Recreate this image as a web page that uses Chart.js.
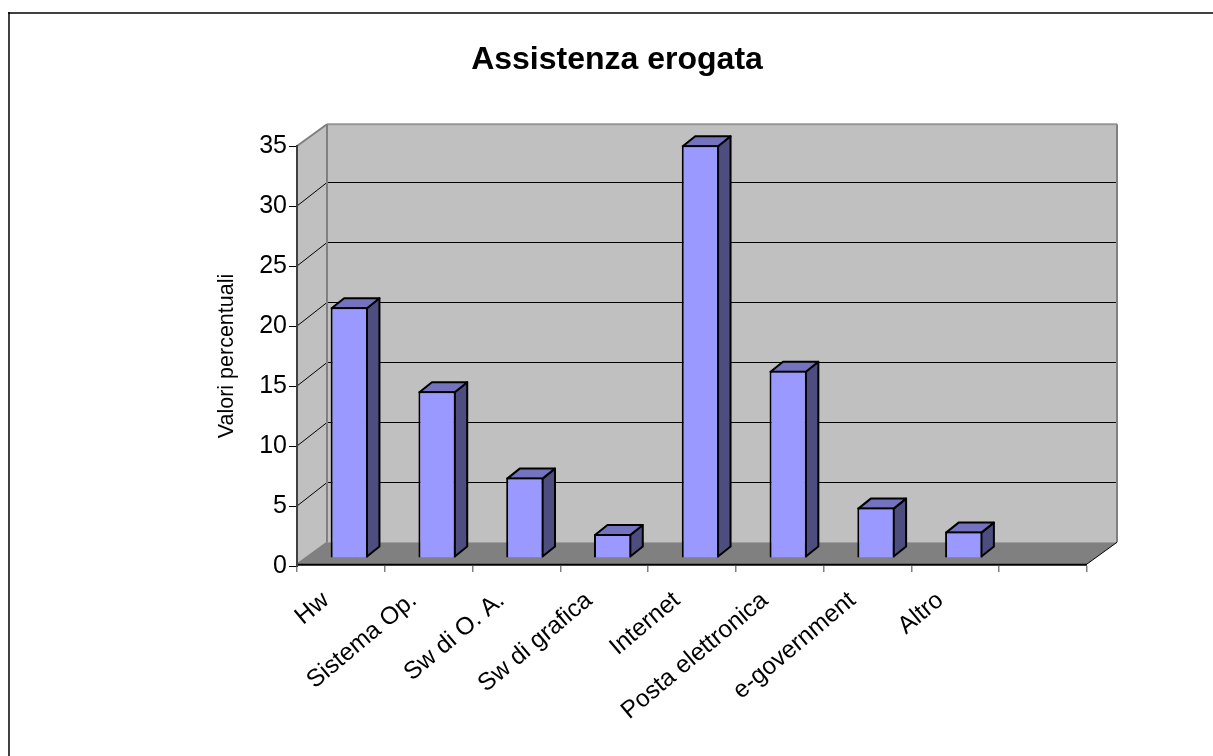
<!DOCTYPE html>
<html lang="it">
<head>
  <meta charset="UTF-8">
  <title>Assistenza erogata</title>
  <script src="https://cdn.jsdelivr.net/npm/chart.js"></script>
  <style>
    body { margin: 0; background: #fff; }
    #wrap { width: 1213px; height: 756px; }
  </style>
</head>
<body>
  <div id="wrap"><canvas id="chart" width="1213" height="756"></canvas></div>
  <script>
    // Dati
    const categories = ["Hw", "Sistema Op.", "Sw di O. A.", "Sw di grafica", "Internet", "Posta elettronica", "e-government", "Altro", ""];
    const values = [20.9, 13.9, 6.7, 2, 34.4, 15.6, 4.2, 2.2, null];
    const yTicks = [0, 5, 10, 15, 20, 25, 30, 35];

    // Profondita' del finto 3D
    const wallDepth = { x: 30, y: -23.7 };
    const barShift = { x: 8.4, y: -8 };
    const barDepth = { x: 12.5, y: -10 };
    const edge = 2; // il pavimento e il bordo alto stanno 2px dentro l'area

    const poly = (ctx, pts, fill, stroke, width) => {
      ctx.beginPath();
      pts.forEach((p, i) => i ? ctx.lineTo(p[0], p[1]) : ctx.moveTo(p[0], p[1]));
      ctx.closePath();
      if (fill) { ctx.fillStyle = fill; ctx.fill(); }
      if (stroke) { ctx.strokeStyle = stroke; ctx.lineWidth = width; ctx.lineJoin = "round"; ctx.stroke(); }
    };

    const line = (ctx, x1, y1, x2, y2, color, width) => {
      ctx.beginPath();
      ctx.moveTo(x1, y1);
      ctx.lineTo(x2, y2);
      ctx.strokeStyle = color;
      ctx.lineWidth = width;
      ctx.stroke();
    };

    // Cornice, pareti e griglia dietro alle barre
    const walls = {
      id: "walls",
      beforeDraw(chart) {
        const { ctx, chartArea: a, scales: { y } } = chart;
        const dx = wallDepth.x;
        const front = a.bottom - edge;
        const backTop = a.top + wallDepth.y + edge, backBottom = a.bottom + wallDepth.y;
        const xl = a.left + dx, xr = a.right + dx;
        ctx.save();
        line(ctx, 9, 12, 9, 756, "#404040", 2);
        line(ctx, 8, 13, 1213, 13, "#000", 1.5);
        poly(ctx, [[xl, backTop], [xr, backTop], [xr, backBottom], [xl, backBottom]], "#c0c0c0");
        poly(ctx, [[a.left, a.top], [xl, backTop], [xl, backBottom], [a.left, front]], "#c0c0c0");
        poly(ctx, [[a.left, front], [xl, backBottom], [xr, backBottom], [a.right, front]], "#808080");
        yTicks.forEach(v => {
          if (v === 0 || v === 35) return;
          const py = y.getPixelForValue(v);
          const by = Math.round(py + wallDepth.y) + 0.5;
          line(ctx, a.left, py, xl, by, "#000", 1);
          line(ctx, xl, by, xr, by, "#000", 1);
        });
        line(ctx, a.left, a.top, xl, backTop, "#808080", 2);
        line(ctx, xl, backTop, xr, backTop, "#969696", 2);
        line(ctx, xl, backTop, xl, backBottom, "#808080", 2);
        line(ctx, xr, backTop, xr, backBottom, "#808080", 2);
        line(ctx, a.left, front, xl, backBottom, "#808080", 1.5);
        line(ctx, a.right, front, xr, backBottom, "#000", 1);
        line(ctx, a.left, front + 0.7, a.right, front + 0.7, "#000", 2);
        ctx.restore();
      },
      // Le barre vengono spostate dentro la profondita' e completate con fianco e tetto
      beforeDatasetsDraw(chart) {
        const { ctx } = chart;
        ctx.save();
        ctx.translate(barShift.x, barShift.y);
        const dx = barDepth.x, dy = barDepth.y;
        chart.getDatasetMeta(0).data.forEach((bar, i) => {
          if (values[i] === null) return;
          const l = bar.x - bar.width / 2 + 1, r = bar.x + bar.width / 2 - 1;
          const t = bar.y + 1, b = bar.base - 1;
          poly(ctx, [[r, t], [r + dx, t + dy], [r + dx, b + dy], [r, b]], "#4d4d80", "#000", 2);
          poly(ctx, [[l, t], [l + dx, t + dy], [r + dx, t + dy], [r, t]], "#7373bf", "#000", 2);
        });
      },
      afterDatasetsDraw(chart) {
        chart.ctx.restore();
      }
    };

    new Chart(document.getElementById("chart"), {
      type: "bar",
      data: {
        labels: categories,
        datasets: [{
          data: values,
          backgroundColor: "#9999ff",
          borderColor: "#000",
          borderWidth: 2,
          categoryPercentage: 1,
          barPercentage: 0.425,
          clip: false
        }]
      },
      options: {
        responsive: false,
        animation: false,
        layout: { padding: { left: 147, right: 126, top: 0, bottom: 0 } },
        plugins: {
          legend: { display: false },
          tooltip: { enabled: false },
          title: {
            display: true,
            text: "Assistenza erogata",
            color: "#000",
            font: { family: "'Liberation Sans', Arial, sans-serif", size: 32, weight: "bold" },
            padding: { top: 41, bottom: 66.6 }
          }
        },
        scales: {
          x: {
            afterFit: s => { s.height = 190; },
            border: { display: false },
            grid: { drawOnChartArea: false, drawTicks: true, tickLength: 6, color: "#808080", lineWidth: 1.5 },
            ticks: {
              color: "#000",
              font: { family: "'Liberation Sans', Arial, sans-serif", size: 24.5 },
              minRotation: 40,
              maxRotation: 40,
              autoSkip: false,
              padding: 14,
              labelOffset: -15
            }
          },
          y: {
            min: 0,
            max: 35,
            afterFit: s => { s.width = 150; },
            afterBuildTicks: s => { s.ticks = yTicks.map(v => ({ value: v })); },
            border: { color: "#404040", width: 2 },
            grid: { drawOnChartArea: false, drawTicks: true, tickLength: 8, color: "#000", lineWidth: 1 },
            ticks: {
              color: "#000",
              font: { family: "'Liberation Sans', Arial, sans-serif", size: 25 },
              padding: 2
            },
            title: {
              display: true,
              text: "Valori percentuali",
              color: "#000",
              font: { family: "'Liberation Sans', Arial, sans-serif", size: 21.5 },
              padding: { top: 67, bottom: 0 }
            }
          }
        }
      },
      plugins: [walls]
    });
  </script>
</body>
</html>
